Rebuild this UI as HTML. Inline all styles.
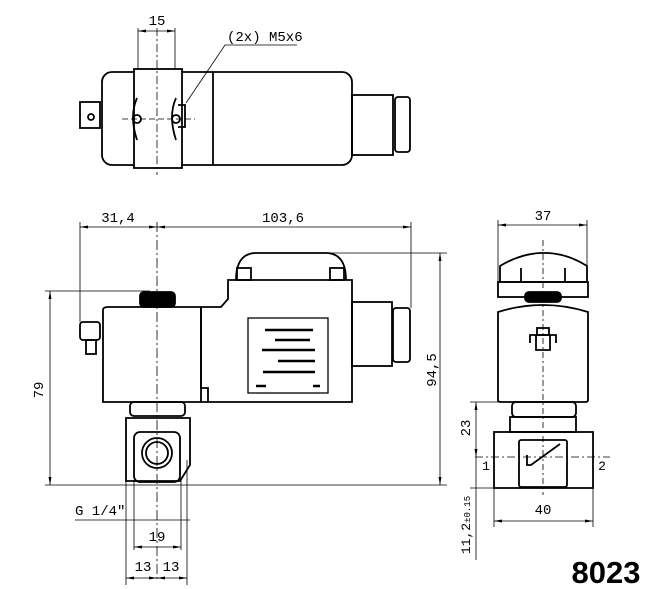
<!DOCTYPE html>
<html><head><style>
html,body{margin:0;padding:0;background:#fff;}
svg{display:block;}
text{font-family:"Liberation Mono",monospace;fill:#000;}
</style></head><body>
<svg width="652" height="589" viewBox="0 0 652 589" xmlns="http://www.w3.org/2000/svg">
<defs>
<marker id="a" markerWidth="8" markerHeight="4" refX="8" refY="2" orient="auto-start-reverse" markerUnits="userSpaceOnUse"><path d="M0,0.5 L8,2 L0,3.5z" fill="#000"/></marker>
</defs>
<g fill="none" stroke="#000" stroke-width="1.8">
<!-- TOP VIEW -->
<rect x="102" y="72" width="250" height="93" rx="10"/>
<rect x="134" y="69" width="48" height="99" fill="#fff"/>
<line x1="213" y1="72" x2="213" y2="165"/>
<rect x="352" y="95" width="41" height="60"/>
<rect x="395" y="97" width="15" height="55" rx="3"/>
<rect x="80" y="102" width="20" height="26"/>
<circle cx="91" cy="117" r="3"/>
<path d="M137,98 q-8,18 0,42 M176,98 q-8,18 0,42 M178,105 l7,0 l0,22 l-7,0"/>
<circle cx="137" cy="119" r="4"/><circle cx="176" cy="119" r="4"/>
</g>
<g stroke="#000" stroke-width="0.8" fill="none">
<line x1="157" y1="28" x2="157" y2="175" stroke-dasharray="8,3,2,3"/>
<line x1="122" y1="119" x2="195" y2="119" stroke-dasharray="6,3"/>
<line x1="138" y1="28" x2="138" y2="69"/><line x1="175" y1="28" x2="175" y2="69"/>
<line x1="138" y1="31" x2="175" y2="31" marker-start="url(#a)" marker-end="url(#a)"/>
<polyline points="186,103 225,45 297,45"/>
</g>
<text x="157" y="25" font-size="14" text-anchor="middle">15</text>
<text x="227" y="41" font-size="14">(2x) M5x6</text>

<!-- FRONT VIEW -->
<g fill="none" stroke="#000" stroke-width="1.8">
<path d="M103,402 L103,310 Q103,307 108,307 L221,307 L228,299 L228,280 L352,280 L352,402 Z" fill="#fff"/>
<line x1="201" y1="307" x2="201" y2="402"/>
<path d="M201,307 L201,388 L208,388 L208,402"/>
<path d="M236,280 Q236,254 255,253 L327,253 Q346,254 346,280"/>
<rect x="237" y="268" width="14" height="12"/><rect x="330" y="268" width="14" height="12"/>
<rect x="140" y="292" width="35" height="15" rx="4" fill="#000"/>
<rect x="352" y="302" width="40" height="64"/>
<rect x="393" y="308" width="17" height="54" rx="3"/>
<rect x="80" y="322" width="20" height="18" rx="3"/>
<rect x="86" y="340" width="10" height="14"/>
<rect x="130" y="402" width="55" height="14" rx="4"/>
<path d="M126,481 L126,418 L190,418 L190,465 L180,481 Z"/>
<circle cx="157" cy="453" r="15"/><circle cx="157" cy="453" r="11"/>
<rect x="134" y="432" width="46" height="50" rx="6"/>
</g>
<g stroke="#000" stroke-width="1.3" fill="none">
<rect x="248" y="318" width="80" height="75"/>
</g>
<g stroke="#000" stroke-width="2.5">
<line x1="265" y1="330" x2="313" y2="330"/><line x1="275" y1="340" x2="310" y2="340"/>
<line x1="262" y1="350" x2="315" y2="350"/><line x1="278" y1="361" x2="315" y2="361"/>
<line x1="263" y1="372" x2="315" y2="372"/><line x1="256" y1="386" x2="266" y2="386"/><line x1="313" y1="386" x2="320" y2="386"/>
</g>
<g stroke="#000" stroke-width="0.8" fill="none">
<line x1="157" y1="222" x2="157" y2="582" stroke-dasharray="10,3,2,3"/>
<line x1="80" y1="222" x2="80" y2="322"/><line x1="411" y1="222" x2="411" y2="308"/>
<line x1="80" y1="227" x2="157" y2="227" marker-start="url(#a)" marker-end="url(#a)"/>
<line x1="157" y1="227" x2="411" y2="227" marker-start="url(#a)" marker-end="url(#a)"/>
<line x1="45" y1="291" x2="150" y2="291"/>
<line x1="45" y1="485" x2="447" y2="485"/>
<line x1="50" y1="291" x2="50" y2="485" marker-start="url(#a)" marker-end="url(#a)"/>
<line x1="330" y1="253" x2="447" y2="253"/>
<line x1="440" y1="253" x2="440" y2="485" marker-start="url(#a)" marker-end="url(#a)"/>
<line x1="126" y1="460" x2="126" y2="585"/><line x1="187" y1="460" x2="187" y2="585"/>
<line x1="134" y1="480" x2="134" y2="550"/><line x1="181" y1="480" x2="181" y2="550"/>
<line x1="75" y1="520" x2="190" y2="520"/>
<line x1="134" y1="547" x2="181" y2="547" marker-start="url(#a)" marker-end="url(#a)"/>
<line x1="126" y1="578" x2="157" y2="578" marker-start="url(#a)" marker-end="url(#a)"/>
<line x1="157" y1="578" x2="187" y2="578" marker-start="url(#a)" marker-end="url(#a)"/>
</g>
<text x="118" y="222" font-size="14" text-anchor="middle">31,4</text>
<text x="283" y="222" font-size="14" text-anchor="middle">103,6</text>
<text transform="translate(43,390) rotate(-90)" font-size="14" text-anchor="middle">79</text>
<text transform="translate(436,370) rotate(-90)" font-size="14" text-anchor="middle">94,5</text>
<text x="75" y="515" font-size="14">G 1/4"</text>
<text x="157" y="541" font-size="14" text-anchor="middle">19</text>
<text x="143" y="571" font-size="14" text-anchor="middle">13</text>
<text x="171" y="571" font-size="14" text-anchor="middle">13</text>

<!-- SIDE VIEW -->
<g fill="none" stroke="#000" stroke-width="1.8">
<path d="M500,282 L500,266 Q520,254 540,253 L548,253 Q568,254 587,266 L587,282 Z"/>
<line x1="521" y1="268" x2="521" y2="282"/><line x1="565" y1="268" x2="565" y2="282"/>
<rect x="498" y="282" width="90" height="15"/>
<rect x="525" y="292" width="36" height="10" rx="4" fill="#000"/>
<path d="M498,312 Q543,298 588,312 L588,400 Q588,402 585,402 L501,402 Q498,402 498,400 Z"/>
<path d="M530,343 L530,335 L556,335 L556,343 M536,335 L536,350 L550,350 L550,335"/>
<rect x="537" y="328" width="12" height="7"/>
<rect x="512" y="402" width="64" height="15" rx="4"/>
<rect x="510" y="417" width="66" height="15"/>
<rect x="494" y="432" width="99" height="56"/>
<rect x="519" y="440" width="48" height="47" rx="2"/>
<path d="M527,455 L527,465 L531,465 L560,444"/>
</g>
<g stroke="#000" stroke-width="0.8" fill="none">
<line x1="543" y1="240" x2="543" y2="495" stroke-dasharray="6,3,2,3"/>
<line x1="475" y1="457" x2="610" y2="457" stroke-dasharray="8,3,2,3"/>
<line x1="498" y1="220" x2="498" y2="282"/><line x1="587" y1="220" x2="587" y2="282"/>
<line x1="498" y1="225" x2="587" y2="225" marker-start="url(#a)" marker-end="url(#a)"/>
<line x1="470" y1="402" x2="512" y2="402"/><line x1="470" y1="488" x2="494" y2="488"/>
<line x1="476" y1="402" x2="476" y2="457" marker-start="url(#a)" marker-end="url(#a)"/>
<line x1="476" y1="457" x2="476" y2="560"/>
<line x1="494" y1="488" x2="494" y2="527"/><line x1="593" y1="488" x2="593" y2="527"/>
<line x1="494" y1="521" x2="593" y2="521" marker-start="url(#a)" marker-end="url(#a)"/>
</g>
<text x="543" y="220" font-size="14" text-anchor="middle">37</text>
<text transform="translate(470,428) rotate(-90)" font-size="14" text-anchor="middle">23</text>
<text x="486" y="470" font-size="13" text-anchor="middle">1</text>
<text x="602" y="470" font-size="13" text-anchor="middle">2</text>
<text x="543" y="514" font-size="14" text-anchor="middle">40</text>
<text transform="translate(470,525) rotate(-90)" font-size="13" text-anchor="middle">11,2<tspan font-size="9">±0.15</tspan></text>
<text x="606" y="583" font-size="31" font-weight="bold" text-anchor="middle" style="font-family:'Liberation Sans',sans-serif">8023</text>
</svg>
</body></html>
